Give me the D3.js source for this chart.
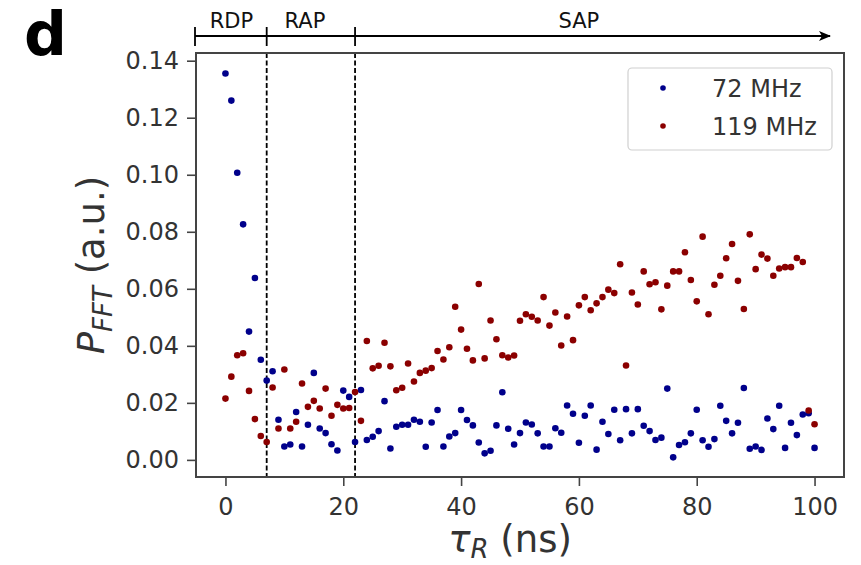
<!DOCTYPE html>
<html>
<head>
<meta charset="utf-8">
<script src="https://cdn.jsdelivr.net/npm/d3@7.9.0/dist/d3.min.js"></script>
<style>
  body { margin: 0; background: #fff; }
  svg { display: block; font-family: "DejaVu Sans", sans-serif; }
</style>
</head>
<body>
<svg width="861" height="565"></svg>
<script>
// delay tau_R (ns)
const tau = [0,1,2,3,4,5,6,7,8,9,10,11,12,13,14,15,16,17,18,19,20,21,22,23,24,25,26,27,28,29,30,
  31,32,33,34,35,36,37,38,39,40,41,42,43,44,45,46,47,48,49,50,51,52,53,54,55,56,57,58,59,60,
  61,62,63,64,65,66,67,68,69,70,71,72,73,74,75,76,77,78,79,80,81,82,83,84,85,86,87,88,89,90,
  91,92,93,94,95,96,97,98,99,100];

const p72 = [0.1355,0.126,0.1007,0.0826,0.045,0.0638,0.0351,0.0278,0.0311,0.0141,
  0.0047,0.0054,0.0168,0.0047,0.0123,0.0305,0.011,0.0094,0.0055,0.0033,
  0.0243,0.0221,0.0063,0.0245,0.007,0.0081,0.0101,0.0206,0.004,0.0116,
  0.0123,0.0123,0.0141,0.0134,0.0046,0.0131,0.0175,0.0047,0.0082,0.0094,
  0.0175,0.014,0.0121,0.0061,0.0023,0.0032,0.0121,0.0237,0.0109,0.0054,
  0.0094,0.0131,0.0124,0.0093,0.0047,0.0047,0.0111,0.0095,0.0191,0.0162,
  0.006,0.0155,0.0191,0.0036,0.0134,0.0091,0.0176,0.0069,0.0178,0.0093,
  0.0178,0.012,0.0101,0.007,0.0078,0.025,0.0009,0.0052,0.0062,0.0093,
  0.0176,0.0069,0.0046,0.0073,0.019,0.0137,0.0093,0.013,0.0252,0.0039,
  0.0047,0.0035,0.0145,0.0108,0.019,0.0042,0.013,0.0087,0.0159,0.0164,0.0042];

const p119 = [0.0215,0.0292,0.0367,0.0374,0.0242,0.0143,0.0084,0.0063,0.0254,0.011,
  0.0317,0.011,0.0134,0.0268,0.0186,0.0207,0.018,0.025,0.0155,0.0193,
  0.018,0.0182,0.0238,0.0137,0.0417,0.0321,0.033,0.0411,0.0328,0.0244,
  0.0253,0.0338,0.0275,0.0305,0.0313,0.0322,0.0382,0.0352,0.0395,0.0537,
  0.0457,0.039,0.0349,0.0617,0.0356,0.0489,0.0423,0.0367,0.0359,0.0366,
  0.0488,0.0511,0.0502,0.0489,0.0571,0.0471,0.0517,0.0401,0.0503,0.042,
  0.0542,0.0571,0.0525,0.0549,0.0571,0.0597,0.0585,0.0686,0.0331,0.0587,
  0.0545,0.0661,0.0616,0.0623,0.0528,0.0611,0.0661,0.0661,0.0728,0.0631,
  0.0556,0.0783,0.0511,0.0614,0.0646,0.0707,0.0757,0.0628,0.0529,0.0791,
  0.0669,0.072,0.0706,0.0646,0.0671,0.0676,0.0676,0.0708,0.0694,0.0173,0.0125];

const seriesNames = ['72 MHz', '119 MHz'];
const seriesColors = ['#00008b', '#8b0000'];
const phaseNames = ['RDP', 'RAP', 'SAP'];
const phaseEdges = [7, 22];
const xTicks = [0, 20, 40, 60, 80, 100];
const yTicks = [0, 0.02, 0.04, 0.06, 0.08, 0.1, 0.12, 0.14];

const svg = d3.select('svg');
const m = { left: 196, right: 844, top: 53, bottom: 477 };
const ink = '#333';

const x = d3.scaleLinear().domain([-5, 105]).range([m.left, m.right]);
const y = d3.scaleLinear().domain([-0.006, 0.1427]).range([m.bottom, m.top]);

// axes
const xAxis = svg.append('g')
  .attr('transform', `translate(0,${m.bottom})`)
  .call(d3.axisBottom(x).tickValues(xTicks).tickSize(9).tickPadding(9).tickFormat(d3.format('d')));
const yAxis = svg.append('g')
  .attr('transform', `translate(${m.left},0)`)
  .call(d3.axisLeft(y).tickValues(yTicks).tickSize(9).tickPadding(8).tickFormat(d3.format('.2f')));

[xAxis, yAxis].forEach(g => {
  g.select('.domain').remove();
  g.selectAll('line').attr('stroke', '#444').attr('stroke-width', 1.6);
  g.selectAll('text').attr('fill', ink).style('font-size', '24px')
    .style('font-family', '"DejaVu Sans", sans-serif');
});
xAxis.selectAll('text').attr('dy', '0.85em');

// phase boundaries
svg.append('g').selectAll('line')
  .data(phaseEdges)
  .join('line')
  .attr('x1', d => x(d)).attr('x2', d => x(d))
  .attr('y1', m.top).attr('y2', m.bottom)
  .attr('stroke', '#000').attr('stroke-width', 1.8)
  .attr('stroke-dasharray', '5,2.5');

// scatter
const series = [p72, p119];
series.forEach((vals, s) => {
  svg.append('g').selectAll('circle')
    .data(vals)
    .join('circle')
    .attr('cx', (d, i) => x(tau[i]))
    .attr('cy', d => y(d))
    .attr('r', 3.3)
    .attr('fill', seriesColors[s]);
});

// frame
svg.append('rect')
  .attr('x', m.left).attr('y', m.top)
  .attr('width', m.right - m.left).attr('height', m.bottom - m.top)
  .attr('fill', 'none').attr('stroke', '#444').attr('stroke-width', 2);

// legend
const lg = svg.append('g');
lg.append('rect')
  .attr('x', 628).attr('y', 68).attr('width', 204).attr('height', 82)
  .attr('rx', 4).attr('fill', '#fff').attr('stroke', '#d0d0d0').attr('stroke-width', 1.2);
seriesNames.forEach((name, i) => {
  lg.append('circle').attr('cx', 663).attr('cy', 88 + i * 38).attr('r', 2.8)
    .attr('fill', seriesColors[i]);
  lg.append('text').attr('x', 712).attr('y', 97 + i * 38)
    .attr('fill', ink).style('font-size', '24px').text(name);
});

// phase annotation above the plot
const arrowY = 36;
const arrowEnd = 830;
svg.append('defs').append('marker')
  .attr('id', 'head').attr('viewBox', '0 0 12 10')
  .attr('refX', 11).attr('refY', 5)
  .attr('markerWidth', 12).attr('markerHeight', 10)
  .attr('markerUnits', 'userSpaceOnUse')
  .attr('orient', 'auto')
  .append('path').attr('d', 'M0,0 L12,5 L0,10 L3,5 Z').attr('fill', '#000');
svg.append('line')
  .attr('x1', m.left - 1).attr('x2', arrowEnd).attr('y1', arrowY).attr('y2', arrowY)
  .attr('stroke', '#000').attr('stroke-width', 2)
  .attr('marker-end', 'url(#head)');
[x(-5) - 1, ...phaseEdges.map(x)].forEach(px => {
  svg.append('line')
    .attr('x1', px).attr('x2', px).attr('y1', arrowY - 9).attr('y2', arrowY + 10)
    .attr('stroke', '#000').attr('stroke-width', 1.8);
});
const phaseMid = [1, 13.5, 60];
phaseNames.forEach((name, i) => {
  svg.append('text')
    .attr('x', x(phaseMid[i])).attr('y', 28)
    .attr('text-anchor', 'middle')
    .attr('fill', '#111').style('font-size', '21px')
    .text(name);
});

// axis labels
const xl = svg.append('text')
  .attr('x', 510).attr('y', 552)
  .attr('text-anchor', 'middle').attr('fill', ink)
  .style('font-size', '37px');
xl.append('tspan').style('font-style', 'italic').text('τ');
xl.append('tspan').attr('dy', 6).style('font-size', '26px').style('font-style', 'italic').text('R');
xl.append('tspan').attr('dy', -6).text(' (ns)');

const yl = svg.append('text')
  .attr('transform', 'translate(104,265) rotate(-90)')
  .attr('text-anchor', 'middle').attr('fill', ink)
  .style('font-size', '37px');
yl.append('tspan').style('font-style', 'italic').text('P');
yl.append('tspan').attr('dy', 8).style('font-size', '26px').style('font-style', 'italic').text('FFT');
yl.append('tspan').attr('dy', -8).text(' (a.u.)');

// panel letter
svg.append('text')
  .attr('x', 24).attr('y', 55)
  .attr('fill', '#000')
  .style('font-size', '60px').style('font-weight', 'bold')
  .text('d');
</script>
</body>
</html>
